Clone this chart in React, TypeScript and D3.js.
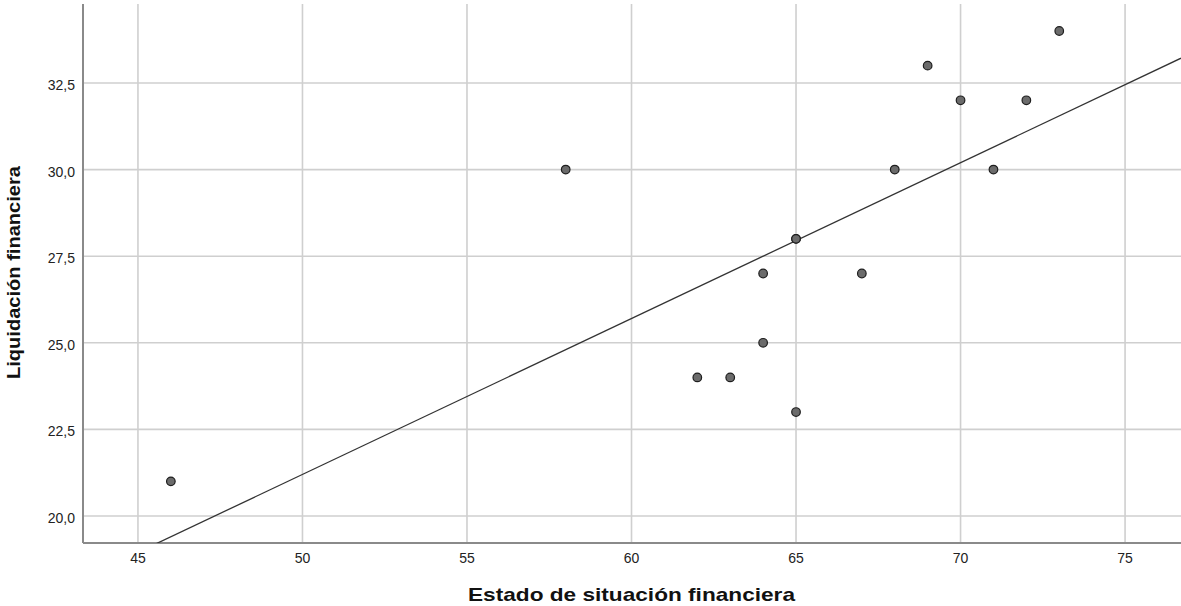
import React from "react";
import * as d3 from "d3";

const xValues = [46, 58, 62, 63, 64, 64, 65, 65, 65, 67, 68, 69, 70, 71, 72, 73];
const yValues = [21, 30, 24, 24, 27, 25, 28, 28, 23, 27, 30, 33, 32, 30, 32, 34];
const xTicks = [45, 50, 55, 60, 65, 70, 75];
const yTicks = [20.0, 22.5, 25.0, 27.5, 30.0, 32.5];
// fit line as drawn in the reference (intercept, slope)
const fitIntercept = -1.3;
const fitSlope = 0.45;
const xTitle = "Estado de situación financiera";
const yTitle = "Liquidación financiera";

const W = 1181;
const H = 606;
const left = 83;
const right = 1181;
const top = 4;
const bottom = 543;

export default function App() {
  const x = d3.scaleLinear().domain([43.33, 76.7]).range([left, right]);
  const y = d3.scaleLinear().domain([19.22, 34.78]).range([bottom, top]);

  const [x0, x1] = x.domain();
  const line = d3.line<number>()
    .x((d) => x(d))
    .y((d) => y(fitIntercept + fitSlope * d));
  const fmt = (v: number) => v.toFixed(1).replace(".", ",");

  return (
    <svg width={W} height={H} style={{ position: "absolute", left: 0, top: 0, background: "#fff" }}
      fontFamily="'Liberation Sans', Arial, sans-serif">
      <defs>
        <clipPath id="plotclip">
          <rect x={left} y={top} width={right - left} height={bottom - top} />
        </clipPath>
      </defs>
      {xTicks.map((t) => (
        <line key={"gx" + t} x1={x(t)} x2={x(t)} y1={top} y2={bottom} stroke="#cfcfcf" strokeWidth={1.6} />
      ))}
      {yTicks.map((t) => (
        <line key={"gy" + t} x1={left} x2={right} y1={y(t)} y2={y(t)} stroke="#cfcfcf" strokeWidth={1.6} />
      ))}
      <line x1={left} x2={left} y1={top} y2={bottom} stroke="#8a8a8a" strokeWidth={2} />
      <line x1={left} x2={right} y1={bottom} y2={bottom} stroke="#8a8a8a" strokeWidth={2} />
      <path d={line([x0, x1]) || ""} fill="none" stroke="#333" strokeWidth={1.3} clipPath="url(#plotclip)" />
      {xValues.map((v, i) => (
        <circle key={i} cx={x(v)} cy={y(yValues[i])} r={4.3} fill="#6b6b6b" stroke="#1e1e1e" strokeWidth={1.2} />
      ))}
      {xTicks.map((t) => (
        <text key={"tx" + t} x={x(t)} y={563} textAnchor="middle" fontSize={14} fill="#222">{t}</text>
      ))}
      {yTicks.map((t) => (
        <text key={"ty" + t} x={75} y={y(t) + 7} textAnchor="end" fontSize={14} fill="#222">{fmt(t)}</text>
      ))}
      <text x={468} y={601} fontSize={19} fontWeight="bold" fill="#111"
        textLength={327} lengthAdjust="spacingAndGlyphs">{xTitle}</text>
      <text transform={`translate(20, 379) rotate(-90)`} fontSize={19} fontWeight="bold" fill="#111"
        textLength={213} lengthAdjust="spacingAndGlyphs">{yTitle}</text>
    </svg>
  );
}
